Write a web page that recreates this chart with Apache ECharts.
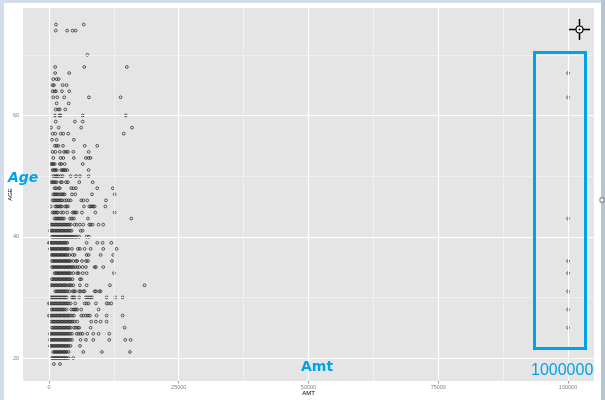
<!DOCTYPE html>
<html>
<head>
<meta charset="utf-8">
<script src="https://cdn.jsdelivr.net/npm/echarts@6/dist/echarts.min.js"></script>
<style>
html,body{margin:0;padding:0;background:#fff;}
#c{width:605px;height:400px;}
</style>
</head>
<body>
<div id="c"></div>
<script>
// ---- data ----
const xTicks = [0, 25000, 50000, 75000, 100000];
const xMinor = [12500, 37500, 62500, 87500];
const yTicks = [20, 40, 60];
const yMinor = [30, 50, 70];

const ageRows = [75,74,70,68,67,66,65,64,63,62,61,60,59,58,57,56,55,54,53,52,51,50,49,48,47,46,45,44,43,42,41,40,39,38,37,36,35,34,33,32,31,30,29,28,27,26,25,24,23,22,21,20,19];

const amtRows = [
  [1350, 6700],
  [1300, 3500, 4550, 5150],
  [7400],
  [1200, 6800, 15000],
  [1200, 3900],
  [830, 1480, 1870],
  [700, 960, 2640, 3400],
  [700, 1100, 1350, 2500, 3900],
  [830, 1600, 2950, 7700, 13800],
  [1480, 3800],
  [1300, 1800, 2100, 3150],
  [1150, 2000, 2250, 6500, 14800],
  [1300, 5000, 6500],
  [390, 1870, 6200, 16000],
  [700, 1220, 2250, 2760, 3720, 14400],
  [580, 1480, 4800],
  [1150, 1480, 1800, 2700, 6880, 9300],
  [700, 1220, 2100, 2900, 3280, 3660, 4700, 7640],
  [830, 2250, 2760, 4800, 7100, 7640, 8000],
  [330, 580, 830, 1100, 2100, 2370, 3020, 6500],
  [700, 960, 1220, 1480, 2370, 2640, 2900, 3150, 3520, 7640],
  [830, 1220, 1480, 1730, 2250, 2640, 4180, 5200, 5970, 7640],
  [450, 700, 960, 1220, 1480, 2250, 2500, 3280, 3660, 5840, 8420],
  [1100, 1350, 1870, 2100, 4300, 4700, 5200, 9300, 12300],
  [830, 1100, 1350, 1600, 1870, 2250, 2500, 2760, 3020, 4430, 5070, 8290, 12650],
  [700, 960, 1220, 1480, 1730, 2000, 2250, 2500, 3020, 3400, 3800, 4180, 6220, 6610, 7380, 10980],
  [330, 1220, 1480, 1730, 2000, 2250, 2500, 3150, 3400, 3660, 6740, 7770, 8030, 8290, 8550, 8800, 10860],
  [700, 960, 1220, 1480, 1730, 2370, 2760, 3520, 4560, 4820, 5070, 5330, 6350, 8930, 12650],
  [1100, 1350, 1600, 1870, 2100, 2370, 2640, 2900, 4050, 4430, 4820, 7510, 15860],
  [320, 580, 830, 1100, 1350, 1600, 1870, 2100, 2370, 2640, 2900, 3150, 3400, 3660, 3900, 4200, 4940, 5330, 5970, 6610, 7770, 8030, 8410, 9550, 10460],
  [190, 450, 700, 960, 1220, 1480, 1730, 2000, 2250, 2500, 2760, 3020, 3270, 3530, 3790, 4040, 4360, 6100, 6480],
  [580, 830, 1100, 1350, 1600, 1870, 2100, 2370, 2640, 2900, 3150, 3400, 3660, 3900, 4180, 4430, 4700, 5070, 5330, 5840, 7250, 7700],
  [0, 190, 450, 700, 960, 1220, 1480, 1730, 2000, 2250, 2500, 2760, 3020, 3270, 3530, 7250, 9310, 10330, 12010],
  [190, 450, 700, 960, 1220, 1480, 1730, 2000, 2250, 2500, 2760, 3020, 3270, 3530, 3790, 4430, 5590, 5970, 6870, 8030, 10460, 13030],
  [450, 700, 960, 1220, 1480, 1730, 2000, 2250, 2500, 2760, 3020, 3270, 3530, 3920, 4560, 4940, 7250, 7640, 9950, 12390],
  [580, 830, 1100, 1350, 1600, 1870, 2100, 2370, 2640, 2900, 3150, 3400, 3660, 3900, 4180, 4690, 5200, 5460, 6360, 7130, 7510, 12130],
  [580, 830, 1100, 1350, 1600, 1870, 2100, 2370, 2640, 2900, 3150, 3400, 3660, 3900, 4180, 4430, 4700, 5070, 5460, 5840, 6480, 7130, 8800, 9050, 10460],
  [1100, 1350, 1600, 1870, 2100, 2370, 2640, 2900, 3150, 3400, 3660, 3900, 4180, 4700, 5460, 5710, 6480, 7250, 12520],
  [580, 830, 1100, 1350, 1600, 1870, 2100, 2370, 2640, 2900, 3150, 3400, 3660, 3920, 4170, 4560, 5970, 6230],
  [320, 580, 830, 1100, 1350, 1600, 1870, 2100, 2370, 2640, 2900, 3150, 3400, 3790, 4040, 4300, 4690, 5970, 7250, 11750, 18420],
  [1220, 1480, 1730, 2000, 2250, 2500, 2760, 3020, 3270, 3530, 3920, 4560, 4820, 5070, 5840, 6100, 6610, 6870, 8800, 9050, 9690, 9950],
  [320, 580, 830, 1100, 1350, 1600, 1870, 2100, 2370, 2640, 2900, 3150, 3400, 4430, 4690, 4940, 5840, 7130, 7510, 7900, 8290, 11110, 12780, 14190],
  [0, 190, 450, 700, 960, 1220, 1480, 1730, 2000, 2250, 2500, 2760, 3020, 3270, 3530, 3790, 4170, 5070, 6870, 7250, 7640, 9050, 11110, 11490, 12010],
  [450, 700, 960, 1220, 1480, 1730, 2000, 2250, 2500, 2760, 3020, 3400, 4300, 4690, 4940, 5200, 5460, 6230, 9570],
  [0, 190, 450, 700, 960, 1220, 1480, 1730, 2000, 2250, 2500, 2760, 3020, 3270, 3530, 3790, 4040, 4430, 4820, 6230, 6610, 7130, 7510, 7900, 9180, 11110, 14190],
  [450, 700, 960, 1220, 1480, 1730, 2000, 2250, 2500, 2760, 3020, 3270, 3530, 3790, 4040, 4300, 4560, 4940, 5460, 8150, 9050, 9950, 11110],
  [580, 830, 1100, 1350, 1600, 1870, 2100, 2370, 2640, 2900, 3150, 3400, 3660, 3900, 4170, 4820, 5200, 5590, 5840, 8030, 14570],
  [190, 450, 700, 960, 1220, 1480, 1730, 2000, 2250, 2500, 2760, 3020, 3270, 3530, 3790, 4040, 4430, 5330, 5710, 6100, 6480, 7380, 8540, 9570, 11620],
  [190, 450, 700, 960, 1220, 1480, 1730, 2000, 2250, 2500, 2760, 3020, 3270, 3530, 3790, 4040, 4430, 6100, 7130, 8540, 11620, 14700, 15730],
  [190, 450, 700, 960, 1220, 1480, 1730, 2000, 2250, 2500, 2760, 3020, 3270, 3530, 3790, 4170, 5970],
  [830, 1100, 1350, 1600, 1870, 2100, 2370, 2640, 2900, 3150, 3400, 3790, 6610, 10200, 15600],
  [580, 830, 1100, 1350, 1600, 1870, 2100, 2370, 2640, 2900, 3150, 3400, 3790, 4690],
  [960, 2120]
];

const outlierAges = [67, 63, 43, 36, 34, 31, 28, 25];
const outlierAmt = 100000;

// ---- build points ----
const points = [];
ageRows.forEach((age, i) => {
  amtRows[i].forEach(a => points.push([a, age]));
});
outlierAges.forEach(age => points.push([outlierAmt, age]));

const majorStyle = {color: '#ffffff', width: 1.2, type: 'solid'};
const minorStyle = {color: '#f3f3f3', width: 0.8, type: 'solid'};
const gridLines = [
  ...xMinor.map(v => ({xAxis: v, lineStyle: minorStyle})),
  ...yMinor.map(v => ({yAxis: v, lineStyle: minorStyle})),
  ...xTicks.map(v => ({xAxis: v, lineStyle: majorStyle})),
  ...yTicks.map(v => ({yAxis: v, lineStyle: majorStyle}))
];

const blue = '#00A2E8';
const chart = echarts.init(document.getElementById('c'), null, {renderer: 'canvas'});
chart.setOption({
  animation: false,
  backgroundColor: '#ffffff',
  grid: {left: 23, right: 11, top: 8, bottom: 19, show: true, backgroundColor: '#e5e5e5', borderWidth: 0,
         containLabel: false, outerBoundsMode: 'none'},
  xAxis: {
    type: 'value', min: -5000, max: 105000,
    axisLine: {show: false},
    splitLine: {show: false},
    axisTick: {show: true, customValues: xTicks, length: 2.5, lineStyle: {color: '#7f7f7f', width: 0.8}},
    axisLabel: {customValues: xTicks, formatter: v => String(v), fontSize: 5.5, color: '#7f7f7f', margin: 3.5, fontFamily: 'Liberation Sans'},
    name: 'AMT', nameLocation: 'middle', nameGap: 9, nameMoveOverlap: false,
    nameTextStyle: {fontSize: 6, color: '#000', fontFamily: 'Liberation Sans'}
  },
  yAxis: {
    type: 'value', min: 16.21, max: 77.73,
    axisLine: {show: false},
    splitLine: {show: false},
    axisTick: {show: true, customValues: yTicks, length: 2.5, lineStyle: {color: '#7f7f7f', width: 0.8}},
    axisLabel: {customValues: yTicks, formatter: v => String(v), fontSize: 5.5, color: '#7f7f7f', margin: 4, fontFamily: 'Liberation Sans'},
    name: 'AGE', nameLocation: 'middle', nameGap: 10, nameRotate: 90, nameMoveOverlap: false,
    nameTextStyle: {fontSize: 6, color: '#000', fontFamily: 'Liberation Sans'}
  },
  series: [
    {
      type: 'scatter', data: [], z: 1, silent: true,
      markLine: {silent: true, symbol: ['none', 'none'], label: {show: false}, data: gridLines, animation: false}
    },
    {
      type: 'scatter', data: points, z: 3, silent: true,
      symbol: 'circle', symbolSize: 2.8,
      itemStyle: {color: 'rgba(0,0,0,0)', borderColor: '#1e1e1e', borderWidth: 0.9}
    }
  ],
  graphic: [
    // window frame
    {type: 'rect', shape: {x: 0, y: 0, width: 605, height: 3}, style: {fill: '#d3dde9'}, z: 10},
    {type: 'rect', shape: {x: 0, y: 0, width: 4, height: 400}, style: {fill: '#d3dde9'}, z: 10},
    {type: 'rect', shape: {x: 601, y: 0, width: 4, height: 400}, style: {fill: '#b7c4d5'}, z: 10},
    {type: 'rect', shape: {x: 600, y: 198, width: 4, height: 4}, style: {fill: '#fff', stroke: '#555', lineWidth: 0.8}, z: 11},
    // annotations
    {type: 'rect', shape: {x: 534.5, y: 52.5, width: 51, height: 296}, style: {fill: 'none', stroke: blue, lineWidth: 3}, z: 20},
    {type: 'text', x: 8, y: 171, style: {text: 'Age', fill: blue, font: 'italic bold 14px "DejaVu Sans"'}, z: 20},
    {type: 'text', x: 301, y: 360, style: {text: 'Amt', fill: blue, font: 'bold 14px "DejaVu Sans"'}, z: 20},
    {type: 'text', x: 531, y: 363, style: {text: '1000000', fill: blue, font: '16px "Liberation Sans"'}, z: 20},
    // cursor crosshair
    {type: 'line', shape: {x1: 569, y1: 29.5, x2: 590, y2: 29.5}, style: {stroke: '#000', lineWidth: 1.5}, z: 20},
    {type: 'line', shape: {x1: 579.5, y1: 19, x2: 579.5, y2: 40}, style: {stroke: '#000', lineWidth: 1.5}, z: 20},
    {type: 'circle', shape: {cx: 579.5, cy: 29.5, r: 3.5}, style: {fill: '#fff', stroke: '#000', lineWidth: 1.2}, z: 21},
    {type: 'circle', shape: {cx: 579.5, cy: 29.5, r: 1}, style: {fill: '#000'}, z: 22}
  ]
});
</script>
</body>
</html>
